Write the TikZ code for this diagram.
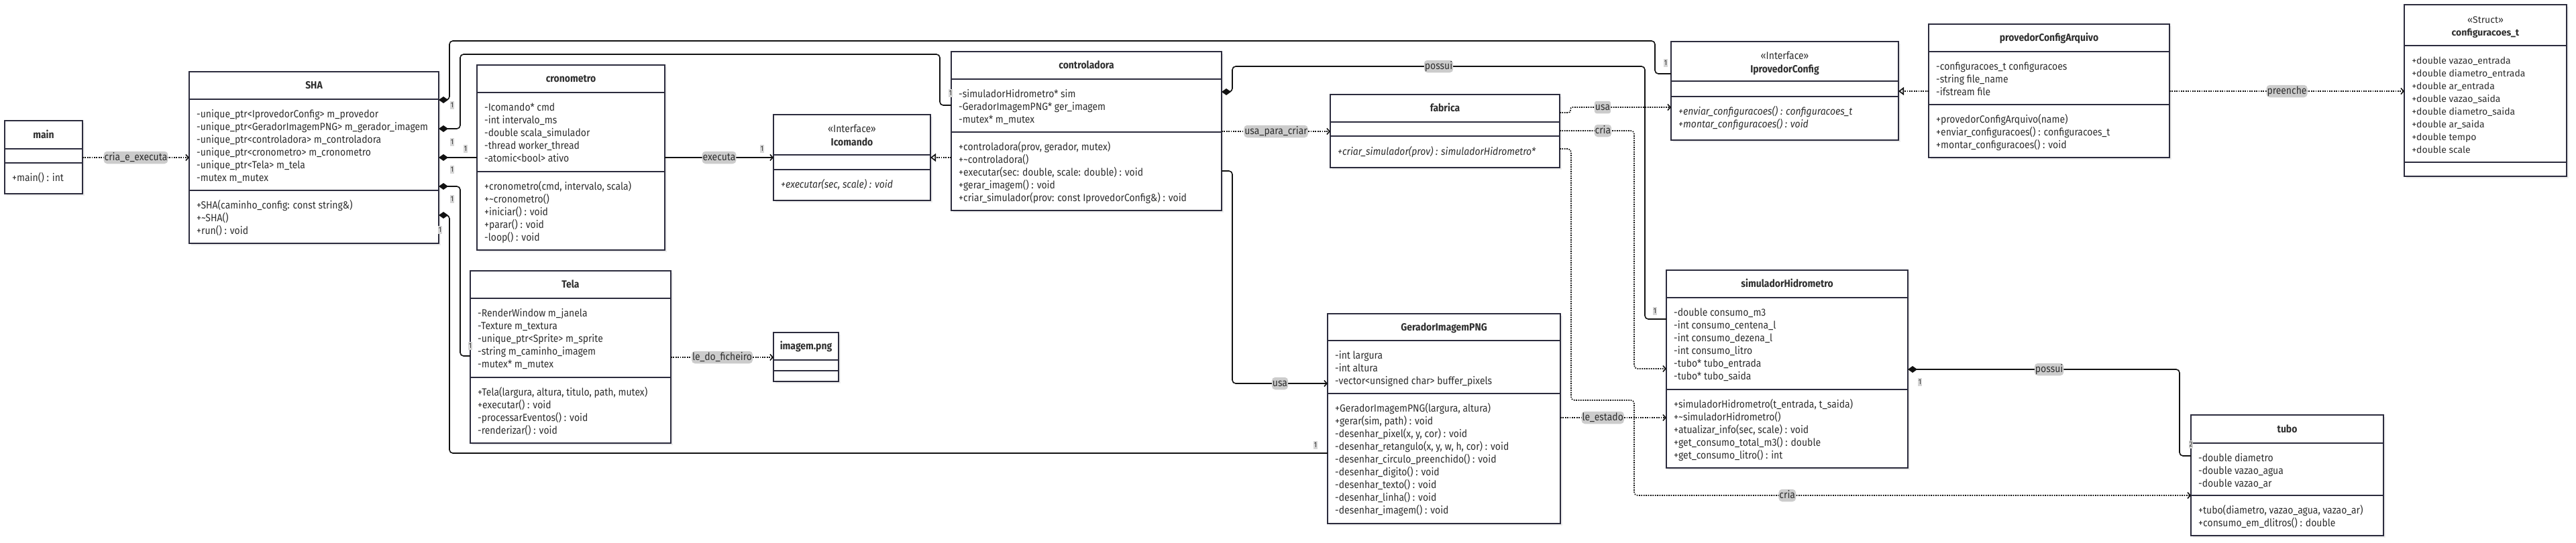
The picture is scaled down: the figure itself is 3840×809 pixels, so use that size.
\documentclass[tikz,border=0pt]{standalone}
\usepackage{fontspec}
\setmainfont{Fira Sans}
\newfontfamily\condfont{Fira Sans}[FakeStretch=0.9]
\usetikzlibrary{arrows.meta,shadows}
\definecolor{boxline}{HTML}{2B2B3D}
\definecolor{boxtext}{HTML}{2E2E2E}
\definecolor{wirecol}{HTML}{111111}
\definecolor{tagfill}{HTML}{CCCCCC}
\def\members[#1](#2)(#3)#4{\node[#1] (#2-#3) at (#2.west |- 0,#3) {\strut #4};}
\def\divider(#1)(#2){\draw[divline] (#1.west |- 0,#2) -- (#1.east |- 0,#2);}
\tikzset{
  classbox/.style={draw=boxline, line width=1.8pt, fill=white, anchor=north west,
    inner sep=0pt, outer sep=0pt,
    drop shadow={shadow xshift=3pt, shadow yshift=-3pt, fill=black, opacity=0.07}},
  divline/.style={draw=boxline, line width=1.8pt},
  classtitle/.style={font=\condfont\bfseries\fontsize{15.5}{19}\selectfont, text=boxtext,
    inner sep=0pt, text height=10.7pt, text depth=0pt},
  stereobox/.style={font=\condfont\fontsize{15.5}{19}\selectfont, text=boxtext,
    inner sep=0pt, text height=10.7pt, text depth=0pt},
  members/.style={font=\condfont\fontsize{15.5}{19}\selectfont, text=boxtext, align=left,
    anchor=north west, inner sep=0pt, xshift=11pt, yshift=-2pt},
  imembers/.style={members, font=\condfont\itshape\fontsize{15.5}{19}\selectfont},
  smembers/.style={members, font=\fontsize{14}{19}\selectfont},
  wire/.style={draw=wirecol, line width=1.6pt, rounded corners=5pt},
  dep/.style={wire, dash pattern=on 1.8pt off 1.6pt, -{Straight Barb[length=4pt,width=9pt]}},
  nav/.style={wire, -{Straight Barb[length=4pt,width=9pt]}},
  comp/.style={wire, {Diamond[length=14pt,width=10pt]}-},
  realiz/.style={wire, dash pattern=on 1.8pt off 1.6pt, -{Triangle[open,length=8pt,width=12pt]}},
  tagbox/.style={font=\condfont\fontsize{15.5}{19}\selectfont, text=boxtext, fill=tagfill,
    inner xsep=1pt, inner ysep=0pt, text height=13.5pt, text depth=5pt},
  multbox/.style={font=\condfont\fontsize{11}{13}\selectfont, text=boxtext, fill=tagfill!80,
    inner sep=1pt, text height=8pt, text depth=2pt}
}

\begin{document}
\begin{tikzpicture}[x=1pt, y=-1pt]
%%%%% START %%%%%
\useasboundingbox (0,0) rectangle (3840,809);

% main
\node[classbox, minimum width=116pt, minimum height=109pt] (main) at (7,180) {};
\divider(main)(222) \divider(main)(243)
\node[classtitle] (main-t) at (main.north |- 0,201) {main};
\members[members](main)(255){+main() : int}

% SHA
\node[classbox, minimum width=372pt, minimum height=256pt] (sha) at (282,107) {};
\divider(sha)(148) \divider(sha)(284)
\node[classtitle] (sha-t) at (sha.north |- 0,127.5) {SHA};
\members[members](sha)(160){-unique\_ptr<IprovedorConfig> m\_provedor\\
-unique\_ptr<GeradorImagemPNG> m\_gerador\_imagem\\
-unique\_ptr<controladora> m\_controladora\\
-unique\_ptr<cronometro> m\_cronometro\\
-unique\_ptr<Tela> m\_tela\\
-mutex m\_mutex}
\members[members](sha)(296){+SHA(caminho\_config: const string\&)\\
+\textasciitilde SHA()\\
+run() : void}

% cronometro
\node[classbox, minimum width=280pt, minimum height=276pt] (crono) at (711,97) {};
\divider(crono)(138) \divider(crono)(256)
\node[classtitle] (crono-t) at (crono.north |- 0,117.5) {cronometro};
\members[members](crono)(150){-Icomando* cmd\\
-int intervalo\_ms\\
-double scala\_simulador\\
-thread worker\_thread\\
-atomic<bool> ativo}
\members[members](crono)(268){+cronometro(cmd, intervalo, scala)\\
+\textasciitilde cronometro()\\
+iniciar() : void\\
+parar() : void\\
-loop() : void}

% Icomando
\node[classbox, minimum width=234pt, minimum height=128pt] (icmd) at (1153,171) {};
\divider(icmd)(231) \divider(icmd)(253)
\node[stereobox] (icmd-s) at (icmd.north |- 0,192) {«Interface»};
\node[classtitle] (icmd-t) at (icmd.north |- 0,212) {Icomando};
\members[imembers](icmd)(265){+executar(sec, scale) : void}

% controladora
\node[classbox, minimum width=403pt, minimum height=237pt] (ctrl) at (1418,77) {};
\divider(ctrl)(118) \divider(ctrl)(197)
\node[classtitle] (ctrl-t) at (ctrl.north |- 0,97.5) {controladora};
\members[members](ctrl)(130){-simuladorHidrometro* sim\\
-GeradorImagemPNG* ger\_imagem\\
-mutex* m\_mutex}
\members[members](ctrl)(209){+controladora(prov, gerador, mutex)\\
+\textasciitilde controladora()\\
+executar(sec: double, scale: double) : void\\
+gerar\_imagem() : void\\
+criar\_simulador(prov: const IprovedorConfig\&) : void}

% fabrica
\node[classbox, minimum width=342pt, minimum height=109pt] (fab) at (1983,141) {};
\divider(fab)(182) \divider(fab)(203)
\node[classtitle] (fab-t) at (fab.north |- 0,161.5) {fabrica};
\members[imembers](fab)(216){+criar\_simulador(prov) : simuladorHidrometro*}

% IprovedorConfig
\node[classbox, minimum width=339pt, minimum height=147pt] (iprov) at (2491,62) {};
\divider(iprov)(121) \divider(iprov)(144)
\node[stereobox] (iprov-s) at (iprov.north |- 0,83) {«Interface»};
\node[classtitle] (iprov-t) at (iprov.north |- 0,103) {IprovedorConfig};
\members[imembers](iprov)(156){+enviar\_configuracoes() : configuracoes\_t\\
+montar\_configuracoes() : void}

% provedorConfigArquivo
\node[classbox, minimum width=359pt, minimum height=199pt] (prov) at (2875,36) {};
\divider(prov)(77) \divider(prov)(156)
\node[classtitle] (prov-t) at (prov.north |- 0,56.5) {provedorConfigArquivo};
\members[members](prov)(89){-configuracoes\_t configuracoes\\
-string file\_name\\
-ifstream file}
\members[members](prov)(168){+provedorConfigArquivo(name)\\
+enviar\_configuracoes() : configuracoes\_t\\
+montar\_configuracoes() : void}

% configuracoes_t
\node[classbox, minimum width=242pt, minimum height=256pt] (conf) at (3584,7) {};
\divider(conf)(68) \divider(conf)(242)
\node[stereobox, font=\fontsize{14}{19}\selectfont] (conf-s) at (conf.north |- 0,29) {«Struct»};
\node[classtitle, font=\bfseries\fontsize{14}{19}\selectfont] (conf-t) at (conf.north |- 0,48) {configuracoes\_t};
\members[smembers](conf)(80){+double vazao\_entrada\\
+double diametro\_entrada\\
+double ar\_entrada\\
+double vazao\_saida\\
+double diametro\_saida\\
+double ar\_saida\\
+double tempo\\
+double scale}

% Tela
\node[classbox, minimum width=299pt, minimum height=257pt] (tela) at (701,404) {};
\divider(tela)(445) \divider(tela)(563)
\node[classtitle] (tela-t) at (tela.north |- 0,424.5) {Tela};
\members[members](tela)(457){-RenderWindow m\_janela\\
-Texture m\_textura\\
-unique\_ptr<Sprite> m\_sprite\\
-string m\_caminho\_imagem\\
-mutex* m\_mutex}
\members[members](tela)(575){+Tela(largura, altura, titulo, path, mutex)\\
+executar() : void\\
-processarEventos() : void\\
-renderizar() : void}

% imagem.png
\node[classbox, minimum width=97pt, minimum height=73pt] (img) at (1153,496) {};
\divider(img)(537) \divider(img)(553)
\node[classtitle] (img-t) at (img.north |- 0,516.5) {imagem.png};

% GeradorImagemPNG
\node[classbox, minimum width=347pt, minimum height=313pt] (gerador) at (1979,468) {};
\divider(gerador)(508) \divider(gerador)(587)
\node[classtitle] (gerador-t) at (gerador.north |- 0,488) {GeradorImagemPNG};
\members[members](gerador)(520){-int largura\\
-int altura\\
-vector<unsigned char> buffer\_pixels}
\members[members](gerador)(599){+GeradorImagemPNG(largura, altura)\\
+gerar(sim, path) : void\\
-desenhar\_pixel(x, y, cor) : void\\
-desenhar\_retangulo(x, y, w, h, cor) : void\\
-desenhar\_circulo\_preenchido() : void\\
-desenhar\_digito() : void\\
-desenhar\_texto() : void\\
-desenhar\_linha() : void\\
-desenhar\_imagem() : void}

% simuladorHidrometro
\node[classbox, minimum width=360pt, minimum height=295pt] (sim) at (2484,403) {};
\divider(sim)(444) \divider(sim)(581)
\node[classtitle] (sim-t) at (sim.north |- 0,423.5) {simuladorHidrometro};
\members[members](sim)(456){-double consumo\_m3\\
-int consumo\_centena\_l\\
-int consumo\_dezena\_l\\
-int consumo\_litro\\
-tubo* tubo\_entrada\\
-tubo* tubo\_saida}
\members[members](sim)(593){+simuladorHidrometro(t\_entrada, t\_saida)\\
+\textasciitilde simuladorHidrometro()\\
+atualizar\_info(sec, scale) : void\\
+get\_consumo\_total\_m3() : double\\
+get\_consumo\_litro() : int}

% tubo
\node[classbox, minimum width=287pt, minimum height=180pt] (tubo) at (3266,619) {};
\divider(tubo)(661) \divider(tubo)(739)
\node[classtitle] (tubo-t) at (tubo.north |- 0,640) {tubo};
\members[members](tubo)(673){-double diametro\\
-double vazao\_agua\\
-double vazao\_ar}
\members[members](tubo)(751){+tubo(diametro, vazao\_agua, vazao\_ar)\\
+consumo\_em\_dlitros() : double}

% connectors
\draw[dep] (main.east |- 0,235) -- node[tagbox] (l-cria-exec) {cria\_e\_executa} (sha.west |- 0,235);

\draw[comp] (sha.east |- 0,149) -- (670,149) -- (670,61) -- (2467,61) -- (2467,110) -- (iprov.west |- 0,110);
\draw[comp] (sha.east |- 0,192) -- (686,192) -- (686,81) -- (1401,81) -- (1401,157) -- (ctrl.west |- 0,157);
\draw[comp] (sha.east |- 0,235) -- (crono.west |- 0,235);
\draw[comp] (sha.east |- 0,278) -- (686,278) -- (686,531) -- (tela.west |- 0,531);
\draw[comp] (sha.east |- 0,321) -- (670,321) -- (670,676) -- (gerador.west |- 0,676);

\draw[nav] (crono.east |- 0,235) -- node[tagbox] (l-exec) {executa} (icmd.west |- 0,235);
\draw[realiz] (ctrl.west |- 0,235) -- (icmd.east |- 0,235);
\draw[dep] (ctrl.east |- 0,196) -- node[tagbox] (l-upc) {usa\_para\_criar} (fab.west |- 0,196);
\draw[comp] (ctrl.east |- 0,137) -- (1837,137) -- (1837,99) -- node[tagbox] (l-possui1) {possui} (2452,99) -- (2452,476) -- (sim.west |- 0,476);
\draw[nav] (ctrl.east |- 0,255) -- (1837,255) -- (1837,572) -- node[tagbox] (l-usa1) {usa} (gerador.west |- 0,572);

\draw[dep, rounded corners=3pt] (fab.east |- 0,168) -- (2341,168) -- (2341,160) -- node[tagbox, pos=0.32] (l-usa2) {usa} (iprov.west |- 0,160);
\draw[dep] (fab.east |- 0,195) -- node[tagbox, pos=0.58] (l-cria1) {cria} (2436,195) -- (2436,550) -- (sim.west |- 0,550);
\draw[dep] (fab.east |- 0,222) -- (2342,222) -- (2342,597) -- (2436,597) -- (2436,739) -- node[tagbox, pos=0.275] (l-cria2) {cria} (tubo.west |- 0,739);
\draw[dep] (gerador.east |- 0,623) -- node[tagbox, pos=0.4] (l-estado) {le\_estado} (sim.west |- 0,623);
\draw[comp] (sim.east |- 0,551) -- node[tagbox, pos=0.52] (l-possui2) {possui} (3249,551) -- (3249,680) -- (tubo.west |- 0,680);

\draw[realiz] (prov.west |- 0,136) -- (iprov.east |- 0,136);
\draw[dep] (prov.east |- 0,136) -- node[tagbox] (l-preenche) {preenche} (conf.west |- 0,136);
\draw[dep] (tela.east |- 0,533) -- node[tagbox] (l-ficheiro) {le\_do\_ficheiro} (img.west |- 0,533);

% multiplicities
\node[multbox] (m-prov-a) at (674,157) {1};
\node[multbox] (m-prov-b) at (2483,94) {1};
\node[multbox] (m-ctrl-a) at (674,212) {1};
\node[multbox] (m-ctrl-b) at (1417,139) {1};
\node[multbox] (m-crono-a) at (674,253) {1};
\node[multbox] (m-crono-b) at (694,222) {1};
\node[multbox] (m-tela-a) at (674,297) {1};
\node[multbox] (m-tela-b) at (701,516) {1};
\node[multbox] (m-ger-a) at (656,343) {1};
\node[multbox] (m-ger-b) at (1961,664) {1};
\node[multbox] (m-exec) at (1136,222) {1};
\node[multbox] (m-sim) at (2467,464) {1};
\node[multbox] (m-tubo-a) at (2862,570) {1};
\node[multbox] (m-tubo-b) at (3266,663) {2};

%%%%% END %%%%%
\end{tikzpicture}
\end{document}
